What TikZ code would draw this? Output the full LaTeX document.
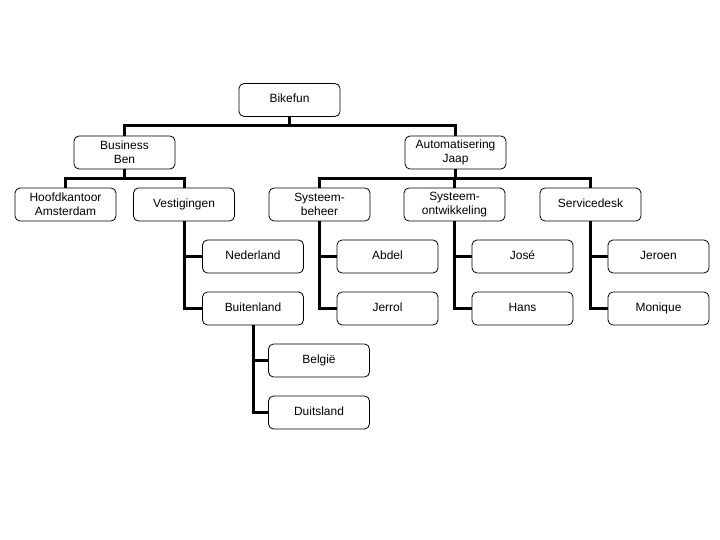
\documentclass[tikz,border=0pt]{standalone}
\usepackage{fontspec}
\setmainfont{Liberation Sans}
\begin{document}
\begin{tikzpicture}[x=1bp,y=-1bp,
  box/.style={draw=black, line width=0.8bp, rounded corners=5bp, minimum width=101bp, minimum height=33bp,
    inner sep=1bp, align=center, font=\fontsize{12}{14}\selectfont},
  conn/.style={draw=black, line width=3bp}]
\useasboundingbox (0,0) rectangle (720,540);
\node[box] (bf) at (289.5,100) {Bikefun\strut};
\node[box] (bb) at (124.5,152.5) {Business\\Ben};
\node[box] (aj) at (455.5,152.5) {Automatisering\\Jaap};
\node[box] (ha) at (65.5,204.5) {Hoofdkantoor\\Amsterdam};
\node[box] (ve) at (184,204.5) {Vestigingen\strut};
\node[box] (sb) at (319.5,204.5) {Systeem-\\beheer};
\node[box] (so) at (454.5,204.5) {Systeem-\\ontwikkeling};
\node[box] (sd) at (590.5,204.5) {Servicedesk\strut};
\node[box] (ne) at (253,256.5) {Nederland\strut};
\node[box] (bu) at (253,308.5) {Buitenland\strut};
\node[box] (ab) at (387.5,256.5) {Abdel\strut};
\node[box] (je) at (387.5,308.5) {Jerrol\strut};
\node[box] (jo) at (522.5,256.5) {José\strut};
\node[box] (ha2) at (522.5,308.5) {Hans\strut};
\node[box] (jr) at (658.5,256.5) {Jeroen\strut};
\node[box] (mo) at (658.5,308.5) {Monique\strut};
\node[box] (be) at (319,360.5) {België\strut};
\node[box] (du) at (319,412.5) {Duitsland\strut};
% connectors
\draw[conn] (bf.south) -- (bf.south |- 0,126) -| (bb.north);
\draw[conn] (bf.south |- 0,126) -| (aj.north);
\draw[conn] (bb.south) -- (bb.south |- 0,179) -| (ha.north);
\draw[conn] (bb.south |- 0,179) -| (ve.north);
\draw[conn] (aj.south) -- (aj.south |- 0,179) -| (sb.north);
\draw[conn] (aj.south |- 0,179) -| (so.north);
\draw[conn] (aj.south |- 0,179) -| (sd.north);
\draw[conn] (ve.south) |- (ne.west);
\draw[conn] (ve.south) |- (bu.west);
\draw[conn] (sb.south) |- (ab.west);
\draw[conn] (sb.south) |- (je.west);
\draw[conn] (so.south) |- (jo.west);
\draw[conn] (so.south) |- (ha2.west);
\draw[conn] (sd.south) |- (jr.west);
\draw[conn] (sd.south) |- (mo.west);
\draw[conn] (bu.south) |- (be.west);
\draw[conn] (bu.south) |- (du.west);
\end{tikzpicture}
\end{document}
